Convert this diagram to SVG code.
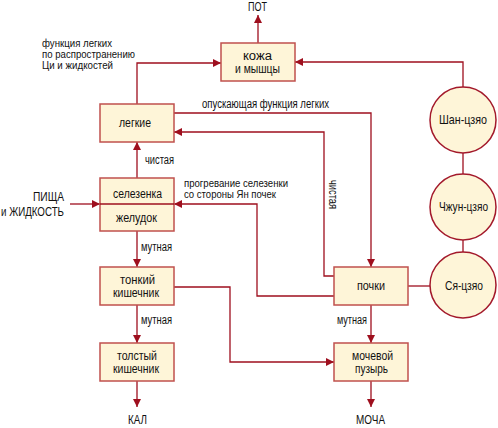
<svg xmlns="http://www.w3.org/2000/svg" width="498" height="428" viewBox="0 0 498 428">
<style>
text{font-family:"Liberation Sans",Arial,sans-serif;font-size:12px;fill:#111}
.s{font-size:11px}
.box{fill:#FEF5D8;stroke:#C0504D;stroke-width:1.5}
.circ{fill:#FEF5D8;stroke:#A3192B;stroke-width:1.5}
.ln{fill:none;stroke:#9E0F1E;stroke-width:1.3}
.big{font-size:13px}
</style>
<defs>
<marker id="ar" viewBox="0 0 10 10" refX="10" refY="5" markerWidth="8" markerHeight="8" markerUnits="userSpaceOnUse" orient="auto">
<path d="M0,0 L10,5 L0,10 z" fill="#9E0F1E"/>
</marker>
</defs>
<g id="connectors">
<path class="ln" d="M258,43 V15" marker-end="url(#ar)"/>
<path class="ln" d="M137,104 V63 H221" marker-end="url(#ar)"/>
<path class="ln" d="M463,87 V62 H295" marker-end="url(#ar)"/>
<path class="ln" d="M463,153 V174"/>
<path class="ln" d="M463,240 V252"/>
<path class="ln" d="M430,286 H408"/>
<path class="ln" d="M174,113 H371 V267" marker-end="url(#ar)"/>
<path class="ln" d="M334,276 H324 V132 H174" marker-end="url(#ar)"/>
<path class="ln" d="M334,296 H257 V204 H174" marker-end="url(#ar)"/>
<path class="ln" d="M70,204 H100" marker-end="url(#ar)"/>
<path class="ln" d="M137,178 V142" marker-end="url(#ar)"/>
<path class="ln" d="M137,231 V267" marker-end="url(#ar)"/>
<path class="ln" d="M137,305 V343" marker-end="url(#ar)"/>
<path class="ln" d="M137,381 V407" marker-end="url(#ar)"/>
<path class="ln" d="M174,287 H230 V362 H334" marker-end="url(#ar)"/>
<path class="ln" d="M371,305 V343" marker-end="url(#ar)"/>
<path class="ln" d="M371,381 V407" marker-end="url(#ar)"/>
</g>
<g id="labels">
<text class="big" x="248" y="11" textLength="19" lengthAdjust="spacingAndGlyphs">ПОТ</text>
<text class="s" x="42" y="47" textLength="70" lengthAdjust="spacingAndGlyphs">функция легких</text>
<text class="s" x="42" y="58" textLength="93" lengthAdjust="spacingAndGlyphs">по распространению</text>
<text class="s" x="42" y="69" textLength="71" lengthAdjust="spacingAndGlyphs">Ци и жидкостей</text>
<text x="202" y="108" textLength="127" lengthAdjust="spacingAndGlyphs">опускающая функция легких</text>
<text transform="translate(329,180) rotate(90)" textLength="29" lengthAdjust="spacingAndGlyphs">чистая</text>
<text class="s" x="184" y="187" textLength="104" lengthAdjust="spacingAndGlyphs">прогревание селезенки</text>
<text class="s" x="184" y="198" textLength="92" lengthAdjust="spacingAndGlyphs">со стороны Ян почек</text>
<text x="145" y="164" textLength="29" lengthAdjust="spacingAndGlyphs">чистая</text>
<text x="141" y="251" textLength="31" lengthAdjust="spacingAndGlyphs">мутная</text>
<text x="141" y="324" textLength="31" lengthAdjust="spacingAndGlyphs">мутная</text>
<text x="337" y="324" textLength="30" lengthAdjust="spacingAndGlyphs">мутная</text>
<text class="big" x="33" y="201" textLength="31" lengthAdjust="spacingAndGlyphs">ПИЩА</text>
<text class="big" x="1" y="216" textLength="63" lengthAdjust="spacingAndGlyphs">и ЖИДКОСТЬ</text>
<text class="big" x="128" y="424" textLength="19" lengthAdjust="spacingAndGlyphs">КАЛ</text>
<text class="big" x="356" y="424" textLength="29" lengthAdjust="spacingAndGlyphs">МОЧА</text>
</g>
<g id="kozha">
<rect class="box" x="221" y="43" width="74" height="38"/>
<text x="243" y="60" textLength="29" lengthAdjust="spacingAndGlyphs">кожа</text>
<text x="235" y="73" textLength="45" lengthAdjust="spacingAndGlyphs">и мышцы</text>
</g>
<g id="legkie">
<rect class="box" x="100" y="104" width="74" height="38"/>
<text x="119" y="127" textLength="32" lengthAdjust="spacingAndGlyphs">легкие</text>
</g>
<g id="selezenka">
<rect class="box" x="100" y="178" width="74" height="53"/>
<line x1="100" y1="204" x2="174" y2="204" stroke="#9E0F1E" stroke-width="1.3"/>
<text x="113" y="198" textLength="49" lengthAdjust="spacingAndGlyphs">селезенка</text>
<text x="116" y="222" textLength="41" lengthAdjust="spacingAndGlyphs">желудок</text>
</g>
<g id="tonkiy">
<rect class="box" x="100" y="267" width="74" height="38"/>
<text x="120" y="284" textLength="35" lengthAdjust="spacingAndGlyphs">тонкий</text>
<text x="113" y="297" textLength="46" lengthAdjust="spacingAndGlyphs">кишечник</text>
</g>
<g id="tolstiy">
<rect class="box" x="100" y="343" width="74" height="38"/>
<text x="117" y="360" textLength="40" lengthAdjust="spacingAndGlyphs">толстый</text>
<text x="113" y="373" textLength="46" lengthAdjust="spacingAndGlyphs">кишечник</text>
</g>
<g id="pochki">
<rect class="box" x="334" y="267" width="74" height="38"/>
<text x="357" y="290" textLength="28" lengthAdjust="spacingAndGlyphs">почки</text>
</g>
<g id="puzyr">
<rect class="box" x="334" y="343" width="74" height="38"/>
<text x="352" y="360" textLength="41" lengthAdjust="spacingAndGlyphs">мочевой</text>
<text x="355" y="373" textLength="33" lengthAdjust="spacingAndGlyphs">пузырь</text>
</g>
<g id="shan">
<circle class="circ" cx="463" cy="120" r="33"/>
<text class="big" x="439" y="124" textLength="48" lengthAdjust="spacingAndGlyphs">Шан-цзяо</text>
</g>
<g id="chzhun">
<circle class="circ" cx="463" cy="207" r="33"/>
<text class="big" x="439" y="211" textLength="49" lengthAdjust="spacingAndGlyphs">Чжун-цзяо</text>
</g>
<g id="sya">
<circle class="circ" cx="463" cy="285" r="33"/>
<text class="big" x="445" y="290" textLength="38" lengthAdjust="spacingAndGlyphs">Ся-цзяо</text>
</g>
</svg>
